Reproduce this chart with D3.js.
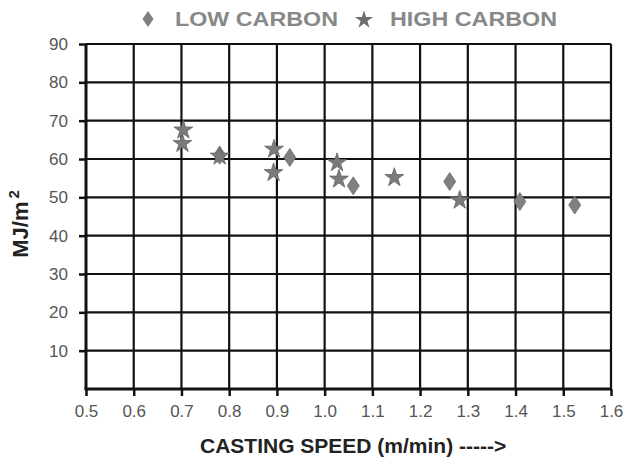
<!DOCTYPE html>
<html><head><meta charset="utf-8">
<script src="https://cdn.jsdelivr.net/npm/d3@7"></script>
<style>body{margin:0;background:#fff;} svg{display:block;}</style>
</head><body>
<script>
const xTicks = [0.5,0.6,0.7,0.8,0.9,1.0,1.1,1.2,1.3,1.4,1.5,1.6];
const yTicks = [10,20,30,40,50,60,70,80,90];
const lowCarbon = [
  [0.78,61.0],[0.927,60.4],[1.06,53.0],[1.262,54.1],[1.409,48.9],[1.524,48.0]
];
const highCarbon = [
  [0.704,67.8],[0.702,64.3],[0.78,61.0],[0.894,62.8],[0.893,56.7],
  [1.026,59.3],[1.03,55.0],[1.146,55.4],[1.283,49.5]
];
const seriesNames = ["LOW CARBON","HIGH CARBON"];

const W=624,H=461;
const FONT="'Liberation Sans', Arial, sans-serif";
const m={left:86,right:611,top:44,bottom:389};
const svg=d3.select("body").append("svg").attr("width",W).attr("height",H)
  .style("font-family",FONT);
const x=d3.scaleLinear().domain([0.5,1.6]).range([m.left,m.right]);
const y=d3.scaleLinear().domain([0,90]).range([m.bottom,m.top]);

// grid
svg.append("g").selectAll("line").data(xTicks.slice(1)).join("line")
  .attr("x1",d=>x(d)).attr("x2",d=>x(d)).attr("y1",m.top).attr("y2",m.bottom)
  .attr("stroke","#111").attr("stroke-width",2.2);
svg.append("g").selectAll("line").data(yTicks).join("line")
  .attr("x1",m.left).attr("x2",m.right).attr("y1",d=>y(d)).attr("y2",d=>y(d))
  .attr("stroke","#111").attr("stroke-width",2.2);

// axes
const xAxis=d3.axisBottom(x).tickValues(xTicks).tickSize(7).tickPadding(9).tickFormat(d3.format(".1f"));
const gx=svg.append("g").attr("transform",`translate(0,${m.bottom})`).call(xAxis);
gx.attr("font-family",FONT);
gx.select(".domain").attr("stroke","#111").attr("stroke-width",3).attr("d",`M${m.left-1.5},0H${m.right+1}`);
gx.selectAll(".tick line").attr("stroke","#111").attr("stroke-width",2.5);
gx.selectAll(".tick text").attr("fill","#555").attr("font-size",17);

const yAxis=d3.axisLeft(y).tickValues(yTicks).tickSize(7).tickPadding(11);
const gy=svg.append("g").attr("transform",`translate(${m.left},0)`).call(yAxis);
gy.attr("font-family",FONT);
gy.select(".domain").attr("stroke","#111").attr("stroke-width",3).attr("d",`M0,${m.top}V${m.bottom}`);
gy.selectAll(".tick line").attr("stroke","#111").attr("stroke-width",2.5);
gy.selectAll(".tick text").attr("fill","#555").attr("font-size",17);

// markers
const diamondPath = (s,w) => `M0,${-s}L${w},0L0,${s}L${-w},0Z`;
const star = d3.symbol().type(d3.symbolStar).size(110);
svg.append("g").selectAll("path").data(lowCarbon).join("path")
  .attr("d",diamondPath(9,6))
  .attr("transform",d=>`translate(${x(d[0])},${y(d[1])})`)
  .attr("fill","#808080").attr("stroke","#6a6a6a").attr("stroke-width",0.8);
svg.append("g").selectAll("path").data(highCarbon).join("path")
  .attr("d",star())
  .attr("transform",d=>`translate(${x(d[0])},${y(d[1])+1})`)
  .attr("fill","#7a7a7a").attr("stroke","#666").attr("stroke-width",0.8);

// legend
const lg=svg.append("g");
lg.append("path").attr("d",diamondPath(8,5.5)).attr("transform","translate(148,19)").attr("fill","#808080");
lg.append("text").attr("x",175).attr("y",26).text(seriesNames[0])
  .attr("font-size",21).attr("font-weight","bold").attr("fill","#888")
  .attr("textLength",163).attr("lengthAdjust","spacingAndGlyphs");
lg.append("path").attr("d",d3.symbol().type(d3.symbolStar).size(100)()).attr("transform","translate(364,20)").attr("fill","#6e6e6e");
lg.append("text").attr("x",390).attr("y",26).text(seriesNames[1])
  .attr("font-size",21).attr("font-weight","bold").attr("fill","#888")
  .attr("textLength",167).attr("lengthAdjust","spacingAndGlyphs");

// axis titles
svg.append("text").attr("x",200).attr("y",453)
  .attr("font-size",21).attr("font-weight","bold").attr("fill","#222")
  .text("CASTING SPEED (m/min) ----->");
const yt=svg.append("text").attr("transform","translate(28,224) rotate(-90)").attr("text-anchor","middle")
  .attr("font-size",22).attr("font-weight","bold").attr("fill","#222");
yt.append("tspan").text("MJ/m");
yt.append("tspan").attr("dx",3).attr("dy",-9).attr("font-size",15).text("2");
</script>
</body></html>
